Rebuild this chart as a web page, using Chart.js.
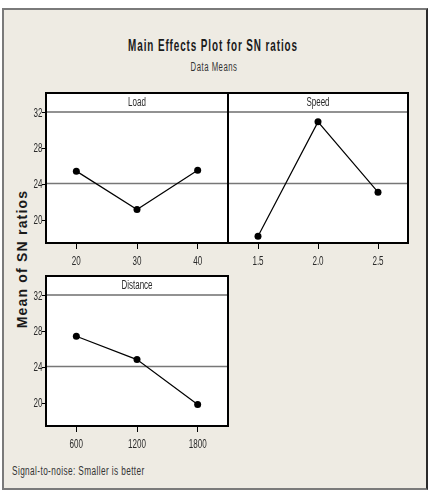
<!DOCTYPE html>
<html>
<head>
<meta charset="utf-8">
<title>Main Effects Plot for SN ratios</title>
<script src="https://cdn.jsdelivr.net/npm/chart.js@4.4.1/dist/chart.umd.min.js"></script>
<style>
  body { margin: 0; background: #fff; width: 434px; height: 500px; position: relative; overflow: hidden;
         font-family: 'Liberation Sans', Arial, sans-serif; }
  #frame { position: absolute; left: 2px; top: 8px; width: 422px; height: 478px; background: #eeebe3;
           border: 2px solid #7a7a7a; border-right-color: #2a2a2a; }
  .txt { position: absolute; color: #1a1a1a; white-space: nowrap; line-height: 1; }
  #title { left: 213px; top: 45px; font-size: 16.5px; font-weight: bold; letter-spacing: 1.5px;
           transform: translate(-50%, -50%) scaleX(0.6); }
  #subtitle { left: 214px; top: 67px; font-size: 12.5px; letter-spacing: 0.8px; color: #333;
              transform: translate(-50%, -50%) scaleX(0.62); }
  #ylabel { left: 22px; top: 259px; font-size: 14px; font-weight: bold; letter-spacing: 1.2px;
            transform: translate(-50%, -50%) rotate(-90deg); }
  #footer { left: 12px; top: 471px; font-size: 12.5px; letter-spacing: 0.6px; color: #333;
            transform-origin: 0 50%; transform: translateY(-50%) scaleX(0.66); }
  canvas { position: absolute; }
</style>
</head>
<body>
<div id="frame"></div>
<div class="txt" id="title">Main Effects Plot for SN ratios</div>
<div class="txt" id="subtitle">Data Means</div>
<div class="txt" id="ylabel">Mean of SN ratios</div>
<div class="txt" id="footer">Signal-to-noise: Smaller is better</div>

<canvas id="loadChart" width="230" height="185" style="left:0;top:88px"></canvas>
<canvas id="speedChart" width="184" height="185" style="left:226px;top:88px"></canvas>
<canvas id="distanceChart" width="230" height="185" style="left:0;top:271px"></canvas>

<script>
// factor levels and mean SN ratios
const loadLevels = ['20', '30', '40'];
const loadSN = [25.46, 21.19, 25.57];
const speedLevels = ['1.5', '2.0', '2.5'];
const speedSN = [18.21, 30.95, 23.11];
const distanceLevels = ['600', '1200', '1800'];
const distanceSN = [27.45, 24.85, 19.85];
const yTicks = [20, 24, 28, 32];

const allSN = loadSN.concat(speedSN, distanceSN);
const grandMean = allSN.reduce((a, b) => a + b, 0) / allSN.length;

const stripHeight = 19;
const textColor = '#2a2a2a';

// Minitab-style squeezed text
function narrowText(ctx, text, x, y, size, squeeze, align) {
  ctx.save();
  ctx.translate(x, y);
  ctx.scale(squeeze, 1);
  ctx.font = size + "px 'Liberation Sans', Arial, sans-serif";
  ctx.fillStyle = textColor;
  ctx.textAlign = align;
  ctx.textBaseline = 'middle';
  ctx.fillText(text, 0, 0);
  ctx.restore();
}

function makePanel(id, stripText, labels, values, showY) {
  const panelPlugin = {
    id: 'panel',
    beforeDraw(chart) {
      const { ctx, chartArea: a } = chart;
      ctx.save();
      ctx.fillStyle = '#fff';
      ctx.fillRect(a.left, a.top, a.right - a.left, a.bottom - a.top);
      ctx.restore();
    },
    beforeDatasetsDraw(chart) {
      // grand mean reference line
      const { ctx, chartArea: a, scales } = chart;
      const y = scales.y.getPixelForValue(grandMean);
      ctx.save();
      ctx.strokeStyle = '#777';
      ctx.lineWidth = 1.5;
      ctx.beginPath();
      ctx.moveTo(a.left, y);
      ctx.lineTo(a.right, y);
      ctx.stroke();
      ctx.restore();
    },
    afterDraw(chart) {
      const { ctx, chartArea: a, scales } = chart;
      const top = a.top - stripHeight;

      // tick labels
      chart.data.labels.forEach((lab, i) => {
        narrowText(ctx, lab, scales.x.getPixelForValue(i), a.bottom + 18, 13, 0.62, 'center');
      });
      if (showY) {
        yTicks.forEach(v => {
          narrowText(ctx, String(v), a.left - 3.5, scales.y.getPixelForValue(v) + 0.5, 13, 0.62, 'right');
        });
      }

      // header strip
      ctx.save();
      ctx.fillStyle = '#fff';
      ctx.fillRect(a.left, top, a.right - a.left, stripHeight);
      ctx.strokeStyle = '#6e6e6e';
      ctx.lineWidth = 1.5;
      ctx.beginPath();
      ctx.moveTo(a.left, a.top);
      ctx.lineTo(a.right, a.top);
      ctx.stroke();
      ctx.restore();
      narrowText(ctx, stripText, (a.left + a.right) / 2, top + stripHeight / 2 + 0.5, 12.5, 0.64, 'center');

      // panel frame
      ctx.save();
      ctx.strokeStyle = '#000';
      ctx.lineWidth = 2;
      ctx.strokeRect(a.left, top, a.right - a.left, a.bottom - top);
      ctx.restore();
    }
  };

  return new Chart(document.getElementById(id), {
    type: 'line',
    data: {
      labels: labels,
      datasets: [{
        data: values,
        borderColor: '#000',
        borderWidth: 1.2,
        pointRadius: 3.5,
        pointBackgroundColor: '#000',
        pointBorderWidth: 0,
        tension: 0
      }]
    },
    options: {
      responsive: false,
      animation: false,
      layout: { autoPadding: false, padding: { top: 24, left: showY ? 0 : 2, right: 2, bottom: 0 } },
      plugins: { legend: { display: false }, tooltip: { enabled: false } },
      scales: {
        x: {
          type: 'category',
          offset: true,
          grid: { display: true, drawOnChartArea: false, drawTicks: true, tickLength: 6, color: '#000' },
          border: { display: false },
          ticks: { display: false },
          afterFit(s) { s.height = 30; s.paddingLeft = 0; s.paddingRight = 0; }
        },
        y: {
          display: showY,
          min: 17.45,
          max: 32.05,
          afterBuildTicks(s) { s.ticks = yTicks.map(v => ({ value: v })); },
          grid: { display: true, drawOnChartArea: false, drawTicks: true, tickLength: 4, color: '#000' },
          border: { display: false },
          ticks: { display: false },
          afterFit(s) { if (showY) s.width = 46; }
        }
      }
    },
    plugins: [panelPlugin]
  });
}

makePanel('loadChart', 'Load', loadLevels, loadSN, true);
makePanel('speedChart', 'Speed', speedLevels, speedSN, false);
makePanel('distanceChart', 'Distance', distanceLevels, distanceSN, true);
</script>
</body>
</html>
